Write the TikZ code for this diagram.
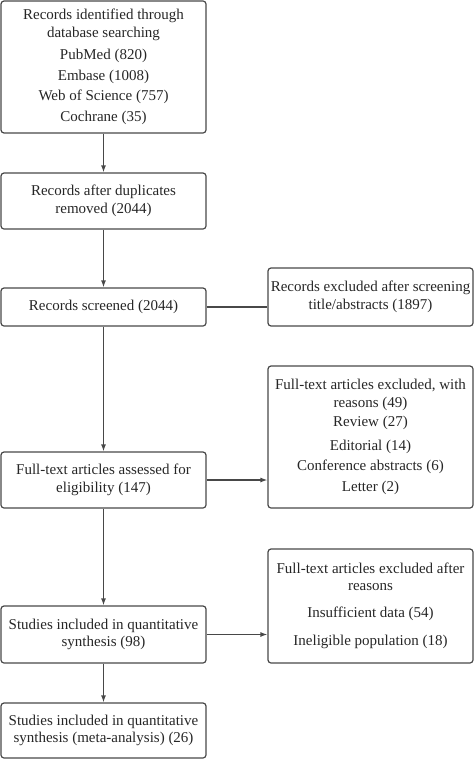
\documentclass[tikz,border=0pt]{standalone}
\usepackage{fontspec}
\setmainfont{Liberation Serif}
\usetikzlibrary{arrows.meta,calc}
\definecolor{linegray}{HTML}{484848}
\definecolor{textgray}{HTML}{262626}
\begin{document}
\begin{tikzpicture}[x=1bp,y=-1bp,
  box/.style={draw=linegray,line width=1.2bp,rounded corners=3bp,minimum width=205bp,
    align=center,inner sep=0pt,text=textgray,
    font=\fontsize{15bp}{17.5bp}\selectfont},
  arr/.style={draw=linegray,line width=1.2bp,-{Latex[length=7bp,width=5bp]}},
  link/.style={draw=linegray,line width=1.2bp}]
\useasboundingbox (0,0) rectangle (474,760);
\node[box,minimum height=132bp] (b1) at (103.5,67) {Records identified through\\database searching\\[5pt]PubMed (820)\\[3pt]Embase (1008)\\[3pt]Web of Science (757)\\[3pt]Cochrane (35)};
\node[box,minimum height=56bp] (b2) at (103.5,201) {Records after duplicates\\removed (2044)};
\node[box,minimum height=38bp] (b3) at (103.5,307) {Records screened (2044)};
\node[box,minimum height=56bp] (b4) at (103.5,480) {Full-text articles assessed for\\eligibility (147)};
\node[box,minimum height=57bp] (b5) at (103.5,634.5) {Studies included in quantitative\\synthesis (98)};
\node[box,minimum height=55bp] (b6) at (103.5,730.5) {Studies included in quantitative\\synthesis (meta-analysis) (26)};
\node[box,minimum height=58bp] (r1) at (370.5,297) {Records excluded after screening\\title/abstracts (1897)};
\node[box,minimum height=142bp] (r2) at (370.5,437) {Full-text articles excluded, with\\reasons (49)\\[2pt]Review (27)\\[6pt]Editorial (14)\\[3pt]Conference abstracts (6)\\[3pt]Letter (2)};
\node[box,minimum height=114bp] (r3) at (370.5,606) {Full-text articles excluded after\\reasons\\[9pt]Insufficient data (54)\\[11pt]Ineligible population (18)};
\draw[arr] (b1) -- (b2);
\draw[arr] (b2) -- (b3);
\draw[arr] (b3) -- (b4);
\draw[arr] (b4) -- (b5);
\draw[arr] (b5) -- (b6);
\draw[link] (b3.east) -- (b3.east -| r1.west);
\draw[arr] (b4.east) -- (b4.east -| r2.west);
\draw[arr] (b5.east) -- (b5.east -| r3.west);
\end{tikzpicture}
\end{document}
